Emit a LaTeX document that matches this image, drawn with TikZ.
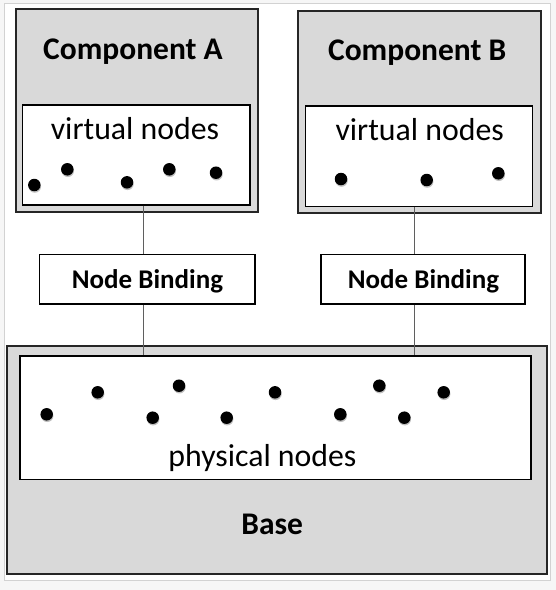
\documentclass[tikz,border=0pt]{standalone}
\usepackage{fontspec}
\setmainfont{Carlito}
\usetikzlibrary{positioning,shadows}
\definecolor{boxgray}{RGB}{217,217,217}
\definecolor{linkgray}{RGB}{95,95,95}
\definecolor{pagegray}{RGB}{246,246,246}
\begin{document}
\begin{tikzpicture}[x=1pt,y=-1pt,
	outerbox/.style={draw=black!85,line width=2pt,fill=boxgray,inner sep=0,rectangle},
	innerbox/.style={draw=black,line width=1.2pt,fill=white,inner sep=0,rectangle},
	bindbox/.style={draw=black,line width=1.5pt,fill=white,inner sep=0,rectangle},
	headtxt/.style={font=\fontsize{31.5}{36}\selectfont\bfseries,anchor=base,inner sep=0},
	bindtxt/.style={font=\fontsize{27}{32}\selectfont\bfseries,anchor=base,inner sep=0},
	plaintxt/.style={font=\fontsize{31.8}{36}\selectfont,anchor=base,inner sep=0},
	dot/.style={circle,fill=black,inner sep=0,minimum size=12.5pt,
		drop shadow={shadow xshift=0.5pt,shadow yshift=-1.5pt,opacity=0.25,fill=black}},
	link/.style={draw=linkgray,line width=1.6pt}]
	% page
	\useasboundingbox (0,0) rectangle (556,590);
	\fill[pagegray] (0,0) rectangle (556,590);
	\draw[draw=gray!35,fill=white,line width=1pt] (4.7,3.5) rectangle (550,580);

	% components
	\node[outerbox,minimum width=242.3pt,minimum height=202.4pt] (compA) at (136.85,110.5) {};
	\node[innerbox,minimum width=227.3pt,minimum height=100pt] (vA) at (136.35,155) {};
	\node[outerbox,minimum width=242.4pt,minimum height=202pt] (compB) at (419.5,111.7) {};
	\node[innerbox,minimum width=227pt,minimum height=100.7pt] (vB) at (419.2,156.35) {};

	\node[headtxt] (tA) at (133,59.3) {Component A};
	\node[headtxt] (tB) at (417.2,60) {Component B};
	\node[plaintxt] (lA) at (135,139.3) {virtual nodes};
	\node[plaintxt] (lB) at (419.7,140) {virtual nodes};

	% bindings
	\node[bindbox,minimum width=215.7pt,minimum height=49.7pt] (nbA) at (147.15,279.15) {};
	\node[bindbox,minimum width=204pt,minimum height=49.7pt] (nbB) at (423,279.15) {};
	\node[bindtxt] (tnA) at (147.5,288.3) {Node Binding};
	\node[bindtxt] (tnB) at (423.5,288.3) {Node Binding};

	% base
	\node[outerbox,minimum width=539.4pt,minimum height=228pt] (base) at (277,460) {};
	\node[innerbox,minimum width=511pt,minimum height=123.3pt] (phys) at (275.5,417.65) {};
	\node[plaintxt] (lP) at (262.5,466) {physical nodes};
	\node[headtxt] (tBase) at (272.2,534.3) {Base};

	% dots
	\foreach \x/\y [count=\i] in {34.3/185,67.3/169.3,127/182.3,169.3/169.3,216/172.7}
		\node[dot] (va\i) at (\x,\y) {};
	\foreach \x/\y [count=\i] in {341/179,426.7/180,498.3/173.3}
		\node[dot] (vb\i) at (\x,\y) {};
	\foreach \x/\y [count=\i] in {46.7/414.3,97.7/392.3,152.7/417.7,179/385.7,226.7/417.7,
		275/392.3,340.3/414.3,379.3/385.7,404.3/417.7,443.7/392.3}
		\node[dot] (p\i) at (\x,\y) {};

	% links
	\coordinate (tapA) at (143.3,0);
	\coordinate (tapB) at (414.3,0);
	\foreach \f/\t/\c in {vA.south/nbA.north/tapA,nbA.south/phys.north/tapA,
		vB.south/nbB.north/tapB,nbB.south/phys.north/tapB}{
		\draw[link] (\f -| \c) -- (\t -| \c);
	}
\end{tikzpicture}
\end{document}
